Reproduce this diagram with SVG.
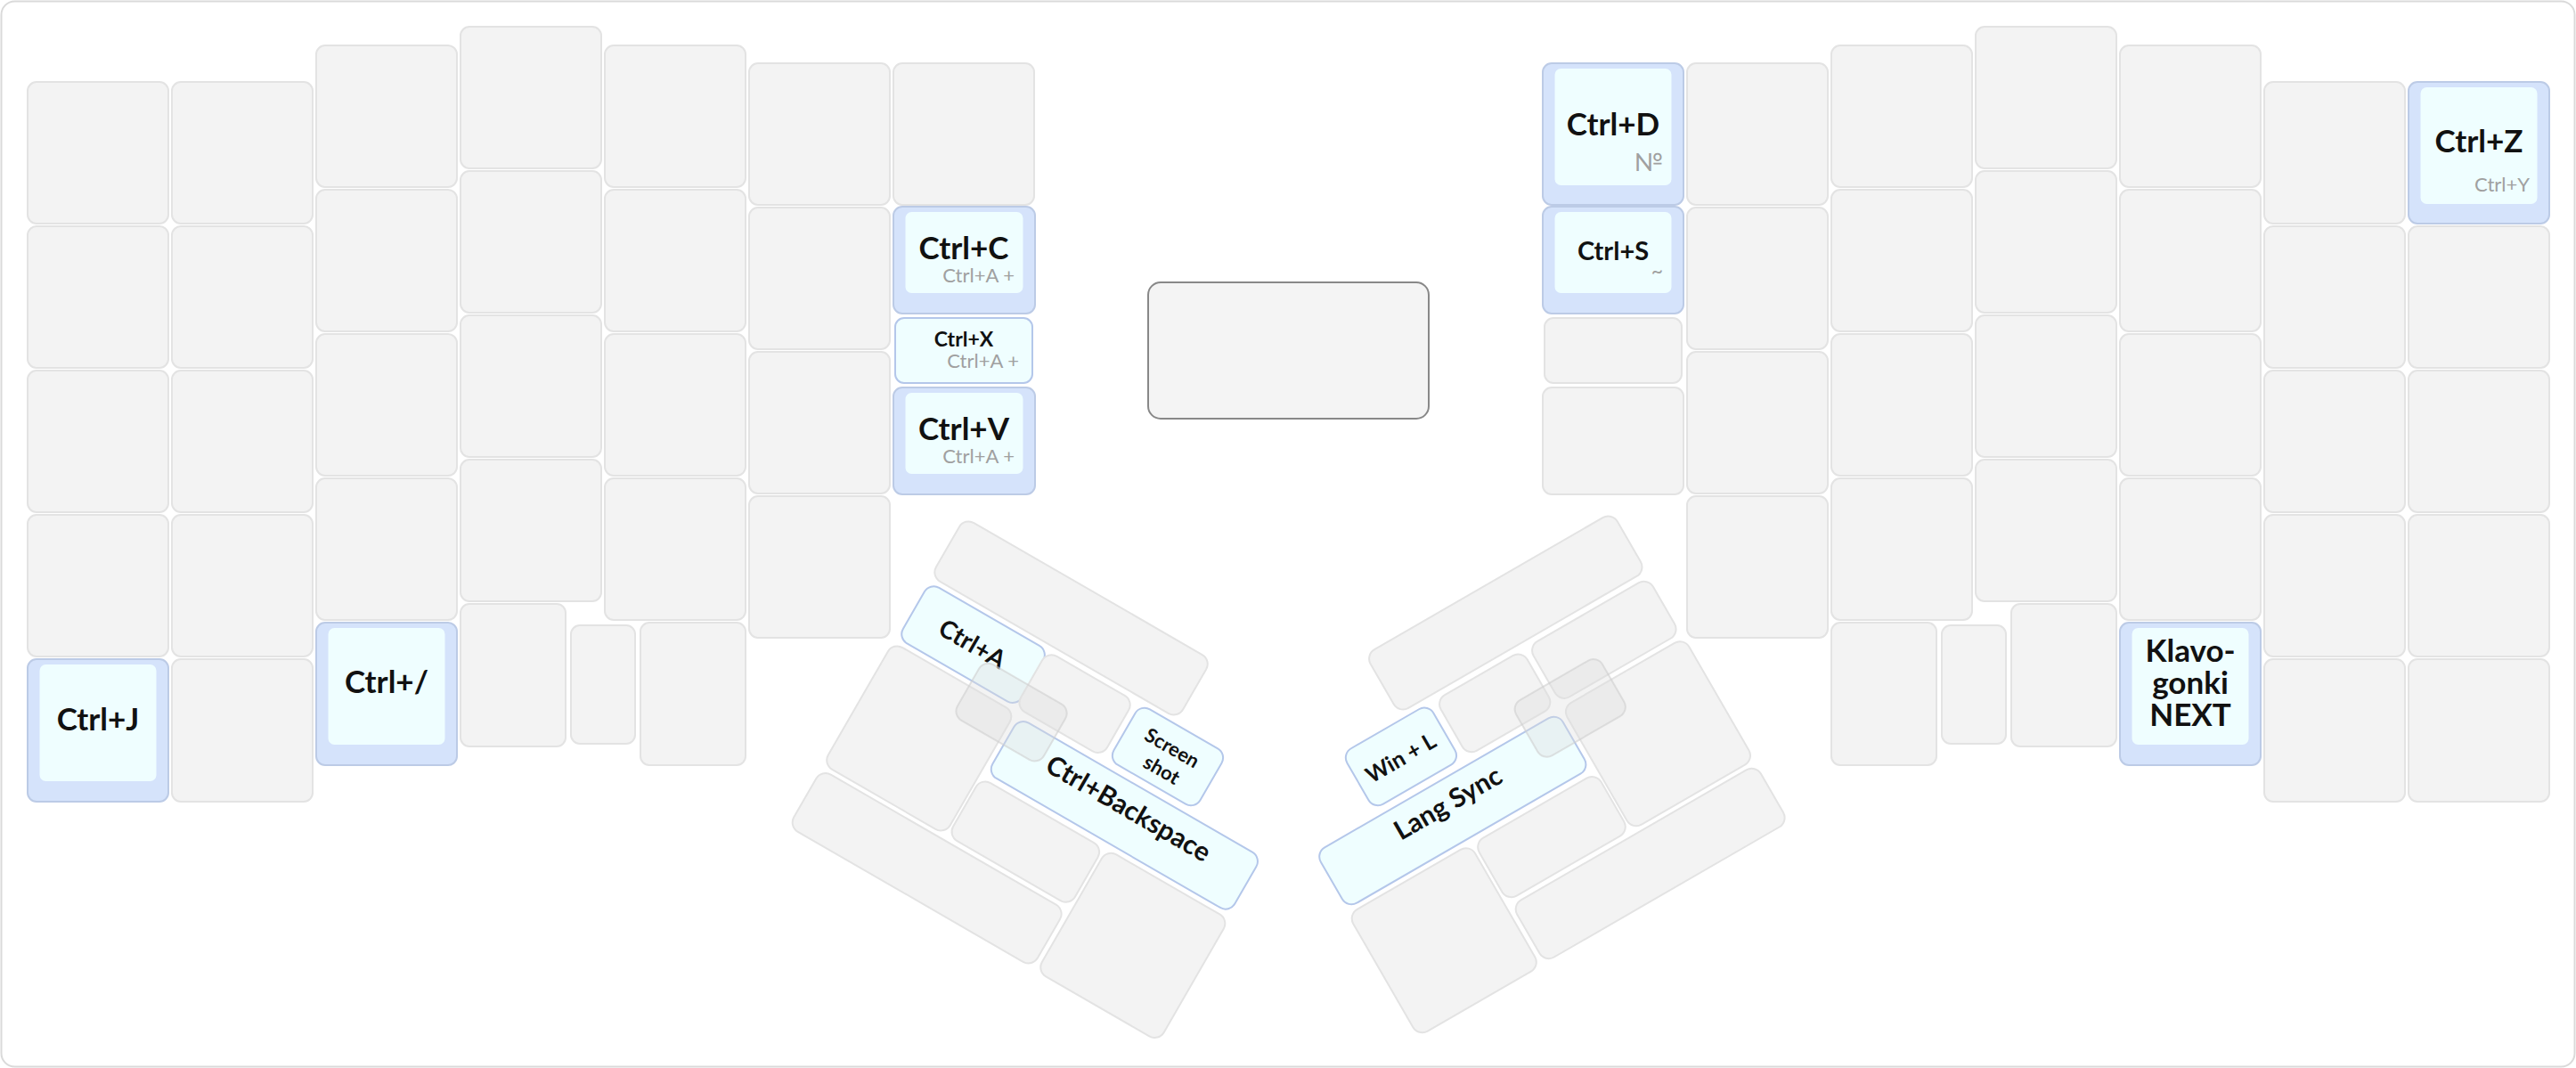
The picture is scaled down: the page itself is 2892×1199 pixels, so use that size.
<svg xmlns="http://www.w3.org/2000/svg" width="2892" height="1199" viewBox="0 0 2892 1199">
<style>
.k{fill:#f3f3f3;stroke:#e3e3e3;stroke-width:2}
.ho{fill:#d5e3fb;stroke:#bccbe6;stroke-width:2}
.hi{fill:#effeff}
.hf{fill:#effeff;stroke:#b4c7ea;stroke-width:2}
.gh{fill:#dcdcdc;fill-opacity:0.35;stroke:#cfcfcf;stroke-opacity:0.6;stroke-width:2}
.t{font-family:Lato,'Liberation Sans',sans-serif;font-weight:700;fill:#111;text-anchor:middle}
.s{font-family:Lato,'Liberation Sans',sans-serif;font-weight:400;fill:#a0a0a0;text-anchor:end}
</style>
<rect x="1.5" y="1.5" width="2889" height="1196" rx="15" fill="#fff" stroke="#dadada" stroke-width="2"/>

<g id="left-half">
<g id="l-c1r1"><rect class="k" x="31" y="92" width="158" height="159" rx="10"/></g>
<g id="l-c1r2"><rect class="k" x="31" y="254" width="158" height="159" rx="10"/></g>
<g id="l-c1r3"><rect class="k" x="31" y="416" width="158" height="159" rx="10"/></g>
<g id="l-c1r4"><rect class="k" x="31" y="578" width="158" height="159" rx="10"/></g>
<g id="l-ctrlj"><rect class="ho" x="31" y="740" width="158" height="160" rx="10"/><rect class="hi" x="44.5" y="746" width="131" height="131" rx="7"/><text class="t" x="110" y="820" font-size="35">Ctrl+J</text></g>

<g id="l-c2r1"><rect class="k" x="193" y="92" width="158" height="159" rx="10"/></g>
<g id="l-c2r2"><rect class="k" x="193" y="254" width="158" height="159" rx="10"/></g>
<g id="l-c2r3"><rect class="k" x="193" y="416" width="158" height="159" rx="10"/></g>
<g id="l-c2r4"><rect class="k" x="193" y="578" width="158" height="159" rx="10"/></g>
<g id="l-c2r5"><rect class="k" x="193" y="740" width="158" height="160" rx="10"/></g>

<g id="l-c3r1"><rect class="k" x="355" y="51" width="158" height="159" rx="10"/></g>
<g id="l-c3r2"><rect class="k" x="355" y="213" width="158" height="159" rx="10"/></g>
<g id="l-c3r3"><rect class="k" x="355" y="375" width="158" height="159" rx="10"/></g>
<g id="l-c3r4"><rect class="k" x="355" y="537" width="158" height="159" rx="10"/></g>
<g id="l-ctrlslash"><rect class="ho" x="355" y="699" width="158" height="160" rx="10"/><rect class="hi" x="368.5" y="705" width="131" height="131" rx="7"/><text class="t" x="434" y="778" font-size="35">Ctrl+/</text></g>

<g id="l-c4r1"><rect class="k" x="517" y="30" width="158" height="159" rx="10"/></g>
<g id="l-c4r2"><rect class="k" x="517" y="192" width="158" height="159" rx="10"/></g>
<g id="l-c4r3"><rect class="k" x="517" y="354" width="158" height="159" rx="10"/></g>
<g id="l-c4r4"><rect class="k" x="517" y="516" width="158" height="159" rx="10"/></g>
<g id="l-c4r5"><rect class="k" x="517" y="678" width="118" height="160" rx="10"/></g>
<g id="l-small"><rect class="k" x="641" y="702" width="72" height="133" rx="10"/></g>

<g id="l-c5r1"><rect class="k" x="679" y="51" width="158" height="159" rx="10"/></g>
<g id="l-c5r2"><rect class="k" x="679" y="213" width="158" height="159" rx="10"/></g>
<g id="l-c5r3"><rect class="k" x="679" y="375" width="158" height="159" rx="10"/></g>
<g id="l-c5r4"><rect class="k" x="679" y="537" width="158" height="159" rx="10"/></g>
<g id="l-c5r5"><rect class="k" x="719" y="699" width="118" height="160" rx="10"/></g>

<g id="l-c6r1"><rect class="k" x="841" y="71" width="158" height="159" rx="10"/></g>
<g id="l-c6r2"><rect class="k" x="841" y="233" width="158" height="159" rx="10"/></g>
<g id="l-c6r3"><rect class="k" x="841" y="395" width="158" height="159" rx="10"/></g>
<g id="l-c6r4"><rect class="k" x="841" y="557" width="158" height="159" rx="10"/></g>

<g id="l-c7r1"><rect class="k" x="1003" y="71" width="158" height="159" rx="10"/></g>
<g id="l-ctrlc"><rect class="ho" x="1003" y="232" width="159" height="120" rx="10"/><rect class="hi" x="1016.5" y="238" width="132" height="91" rx="7"/><text class="t" x="1082" y="291" font-size="35">Ctrl+C</text><text class="s" x="1139" y="317" font-size="22">Ctrl+A +</text></g>
<g id="l-ctrlx"><rect class="hf" x="1005" y="357" width="154" height="73" rx="10"/><text class="t" x="1082" y="389" font-size="23">Ctrl+X</text><text class="s" x="1144" y="413" font-size="22">Ctrl+A +</text></g>
<g id="l-ctrlv"><rect class="ho" x="1003" y="435" width="159" height="120" rx="10"/><rect class="hi" x="1016.5" y="441" width="132" height="91" rx="7"/><text class="t" x="1082" y="494" font-size="35">Ctrl+V</text><text class="s" x="1139" y="520" font-size="22">Ctrl+A +</text></g>
</g>

<g id="center-box"><rect x="1289" y="317" width="315" height="153" rx="14" fill="#f4f4f4" stroke="#888" stroke-width="2"/></g>

<g id="right-half">
<g id="r-ctrld"><rect class="ho" x="1732" y="71" width="158" height="159" rx="10"/><rect class="hi" x="1745.5" y="77" width="131" height="131" rx="7"/><text class="t" x="1811" y="152" font-size="35">Ctrl+D</text><text class="s" x="1867" y="192" font-size="28">№</text></g>
<g id="r-ctrls"><rect class="ho" x="1732" y="232" width="158" height="120" rx="10"/><rect class="hi" x="1745.5" y="238" width="131" height="91" rx="7"/><text class="t" x="1811" y="292" font-size="29">Ctrl+S</text><text class="s" x="1867" y="312" font-size="23">~</text></g>
<g id="r-c1r3"><rect class="k" x="1734" y="357" width="154" height="73" rx="10"/></g>
<g id="r-c1r4"><rect class="k" x="1732" y="435" width="158" height="120" rx="10"/></g>

<g id="r-c2r1"><rect class="k" x="1894" y="71" width="158" height="159" rx="10"/></g>
<g id="r-c2r2"><rect class="k" x="1894" y="233" width="158" height="159" rx="10"/></g>
<g id="r-c2r3"><rect class="k" x="1894" y="395" width="158" height="159" rx="10"/></g>
<g id="r-c2r4"><rect class="k" x="1894" y="557" width="158" height="159" rx="10"/></g>

<g id="r-c3r1"><rect class="k" x="2056" y="51" width="158" height="159" rx="10"/></g>
<g id="r-c3r2"><rect class="k" x="2056" y="213" width="158" height="159" rx="10"/></g>
<g id="r-c3r3"><rect class="k" x="2056" y="375" width="158" height="159" rx="10"/></g>
<g id="r-c3r4"><rect class="k" x="2056" y="537" width="158" height="159" rx="10"/></g>
<g id="r-c3r5"><rect class="k" x="2056" y="699" width="118" height="160" rx="10"/></g>
<g id="r-small"><rect class="k" x="2180" y="702" width="72" height="133" rx="10"/></g>

<g id="r-c4r1"><rect class="k" x="2218" y="30" width="158" height="159" rx="10"/></g>
<g id="r-c4r2"><rect class="k" x="2218" y="192" width="158" height="159" rx="10"/></g>
<g id="r-c4r3"><rect class="k" x="2218" y="354" width="158" height="159" rx="10"/></g>
<g id="r-c4r4"><rect class="k" x="2218" y="516" width="158" height="159" rx="10"/></g>
<g id="r-c4r5"><rect class="k" x="2258" y="678" width="118" height="160" rx="10"/></g>

<g id="r-c5r1"><rect class="k" x="2380" y="51" width="158" height="159" rx="10"/></g>
<g id="r-c5r2"><rect class="k" x="2380" y="213" width="158" height="159" rx="10"/></g>
<g id="r-c5r3"><rect class="k" x="2380" y="375" width="158" height="159" rx="10"/></g>
<g id="r-c5r4"><rect class="k" x="2380" y="537" width="158" height="159" rx="10"/></g>
<g id="r-klavogonki"><rect class="ho" x="2380" y="699" width="158" height="160" rx="10"/><rect class="hi" x="2393.5" y="705" width="131" height="131" rx="7"/><text class="t" x="2459" font-size="35"><tspan x="2459" y="743">Klavo-</tspan><tspan x="2459" y="779">gonki</tspan><tspan x="2459" y="815">NEXT</tspan></text></g>

<g id="r-c6r1"><rect class="k" x="2542" y="92" width="158" height="159" rx="10"/></g>
<g id="r-c6r2"><rect class="k" x="2542" y="254" width="158" height="159" rx="10"/></g>
<g id="r-c6r3"><rect class="k" x="2542" y="416" width="158" height="159" rx="10"/></g>
<g id="r-c6r4"><rect class="k" x="2542" y="578" width="158" height="159" rx="10"/></g>
<g id="r-c6r5"><rect class="k" x="2542" y="740" width="158" height="160" rx="10"/></g>

<g id="r-ctrlz"><rect class="ho" x="2704" y="92" width="158" height="159" rx="10"/><rect class="hi" x="2717.5" y="98" width="131" height="131" rx="7"/><text class="t" x="2783" y="171" font-size="35">Ctrl+Z</text><text class="s" x="2840" y="215" font-size="22">Ctrl+Y</text></g>
<g id="r-c7r2"><rect class="k" x="2704" y="254" width="158" height="159" rx="10"/></g>
<g id="r-c7r3"><rect class="k" x="2704" y="416" width="158" height="159" rx="10"/></g>
<g id="r-c7r4"><rect class="k" x="2704" y="578" width="158" height="159" rx="10"/></g>
<g id="r-c7r5"><rect class="k" x="2704" y="740" width="158" height="160" rx="10"/></g>
</g>

<g id="thumb-left" transform="rotate(30)">
<g id="lt-top"><rect class="k" x="1228.4" y="-38.3" width="320" height="76" rx="12"/></g>
<g id="lt-ctrla"><rect class="hf" x="1231" y="44.4" width="154" height="72" rx="12"/><text class="t" x="1307" y="90" font-size="28">Ctrl+A</text></g>
<g id="lt-c"><rect class="k" x="1384" y="45" width="112" height="72" rx="12"/></g>
<g id="lt-screenshot"><rect class="hf" x="1504.1" y="44.2" width="112" height="72" rx="12"/><text class="t" font-size="22"><tspan x="1559.5" y="77">Screen</tspan><tspan x="1561.5" y="104">shot</tspan></text></g>
<g id="lt-bksp"><rect class="hf" x="1393.9" y="125.5" width="314" height="72" rx="12"/><text class="t" x="1551" y="163" font-size="30">Ctrl+Backspace</text></g>
<g id="lt-g"><rect class="k" x="1229" y="123" width="158" height="158" rx="12"/></g>
<g id="lt-h"><rect class="k" x="1390.6" y="205.3" width="158" height="75" rx="12"/></g>
<g id="lt-i"><rect class="k" x="1230.6" y="286.8" width="316" height="74" rx="12"/></g>
<g id="lt-j"><rect class="k" x="1553.1" y="204.3" width="158" height="158" rx="12"/></g>
<g id="lt-ghost"><rect class="gh" x="1327.2" y="88.7" width="112" height="72" rx="12"/></g>
</g>

<g id="thumb-right" transform="rotate(-30)">
<g id="rt-top"><rect class="k" x="959.8" y="1403" width="320" height="76" rx="12"/></g>
<g id="rt-b"><rect class="k" x="1122.9" y="1486.5" width="155" height="72" rx="12"/></g>
<g id="rt-c"><rect class="k" x="1002.7" y="1486.7" width="112" height="72" rx="12"/></g>
<g id="rt-winl"><rect class="hf" x="881.5" y="1486.1" width="112" height="72" rx="12"/><text class="t" x="936.5" y="1532" font-size="25">Win + L</text></g>
<g id="rt-lang"><rect class="hf" x="800.3" y="1567.5" width="314" height="72" rx="12"/><text class="t" x="957" y="1604" font-size="30">Lang Sync</text></g>
<g id="rt-g"><rect class="k" x="1121.2" y="1565.1" width="158" height="158" rx="12"/></g>
<g id="rt-h"><rect class="k" x="959.8" y="1647.2" width="158" height="75" rx="12"/></g>
<g id="rt-i"><rect class="k" x="961.7" y="1728.9" width="316" height="74" rx="12"/></g>
<g id="rt-j"><rect class="k" x="797.2" y="1645.9" width="158" height="158" rx="12"/></g>
<g id="rt-ghost"><rect class="gh" x="1073.1" y="1533.8" width="112" height="72" rx="12"/></g>
</g>
</svg>
